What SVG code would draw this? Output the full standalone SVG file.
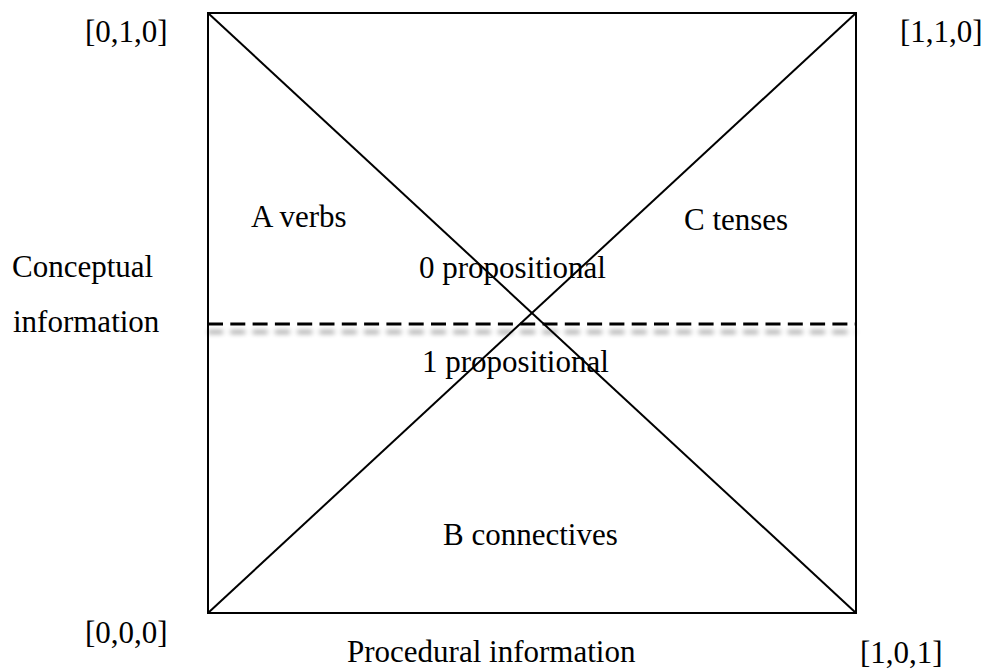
<svg xmlns="http://www.w3.org/2000/svg" width="986" height="670" viewBox="0 0 986 670">
<style>
text { font-family: 'Liberation Serif', 'Times New Roman', Tinos, 'DejaVu Serif', serif; font-size: 31px; fill: #000; }
.ln { stroke: #000; stroke-width: 2; fill: none; }
.dash { stroke: #000; stroke-width: 3; stroke-dasharray: 15 7.3; fill: none; }
</style>
<defs>
<filter id="shadow" filterUnits="userSpaceOnUse" x="190" y="300" width="690" height="60">
<feGaussianBlur in="SourceAlpha" stdDeviation="2.6"/>
<feOffset dx="0" dy="8" result="b"/>
<feComponentTransfer in="b" result="s"><feFuncA type="linear" slope="0.45"/></feComponentTransfer>
<feMerge><feMergeNode in="s"/><feMergeNode in="SourceGraphic"/></feMerge>
</filter>
</defs>
<rect width="986" height="670" fill="#fff"/>
<g id="connectors">
<rect class="ln" x="208" y="13" width="648" height="600"/>
<line class="ln" x1="208" y1="13" x2="856" y2="613"/>
<line class="ln" x1="208" y1="613" x2="856" y2="13"/>
<line class="dash" x1="208" y1="324" x2="856" y2="324" filter="url(#shadow)"/>
</g>
<g id="corner-010"><text x="85" y="42">[0,1,0]</text></g>
<g id="corner-110"><text x="900" y="42">[1,1,0]</text></g>
<g id="corner-000"><text x="85" y="643">[0,0,0]</text></g>
<g id="corner-101"><text x="860" y="663">[1,0,1]</text></g>
<g id="axis-x"><text x="347" y="662">Procedural information</text></g>
<g id="axis-y"><text x="12" y="277">Conceptual</text><text x="13" y="332">information</text></g>
<g id="A"><text x="251" y="227">A verbs</text></g>
<g id="C"><text x="684" y="230">C tenses</text></g>
<g id="P0"><text x="419" y="278">0 propositional</text></g>
<g id="P1"><text x="422" y="372">1 propositional</text></g>
<g id="B"><text x="443" y="545">B connectives</text></g>
</svg>
